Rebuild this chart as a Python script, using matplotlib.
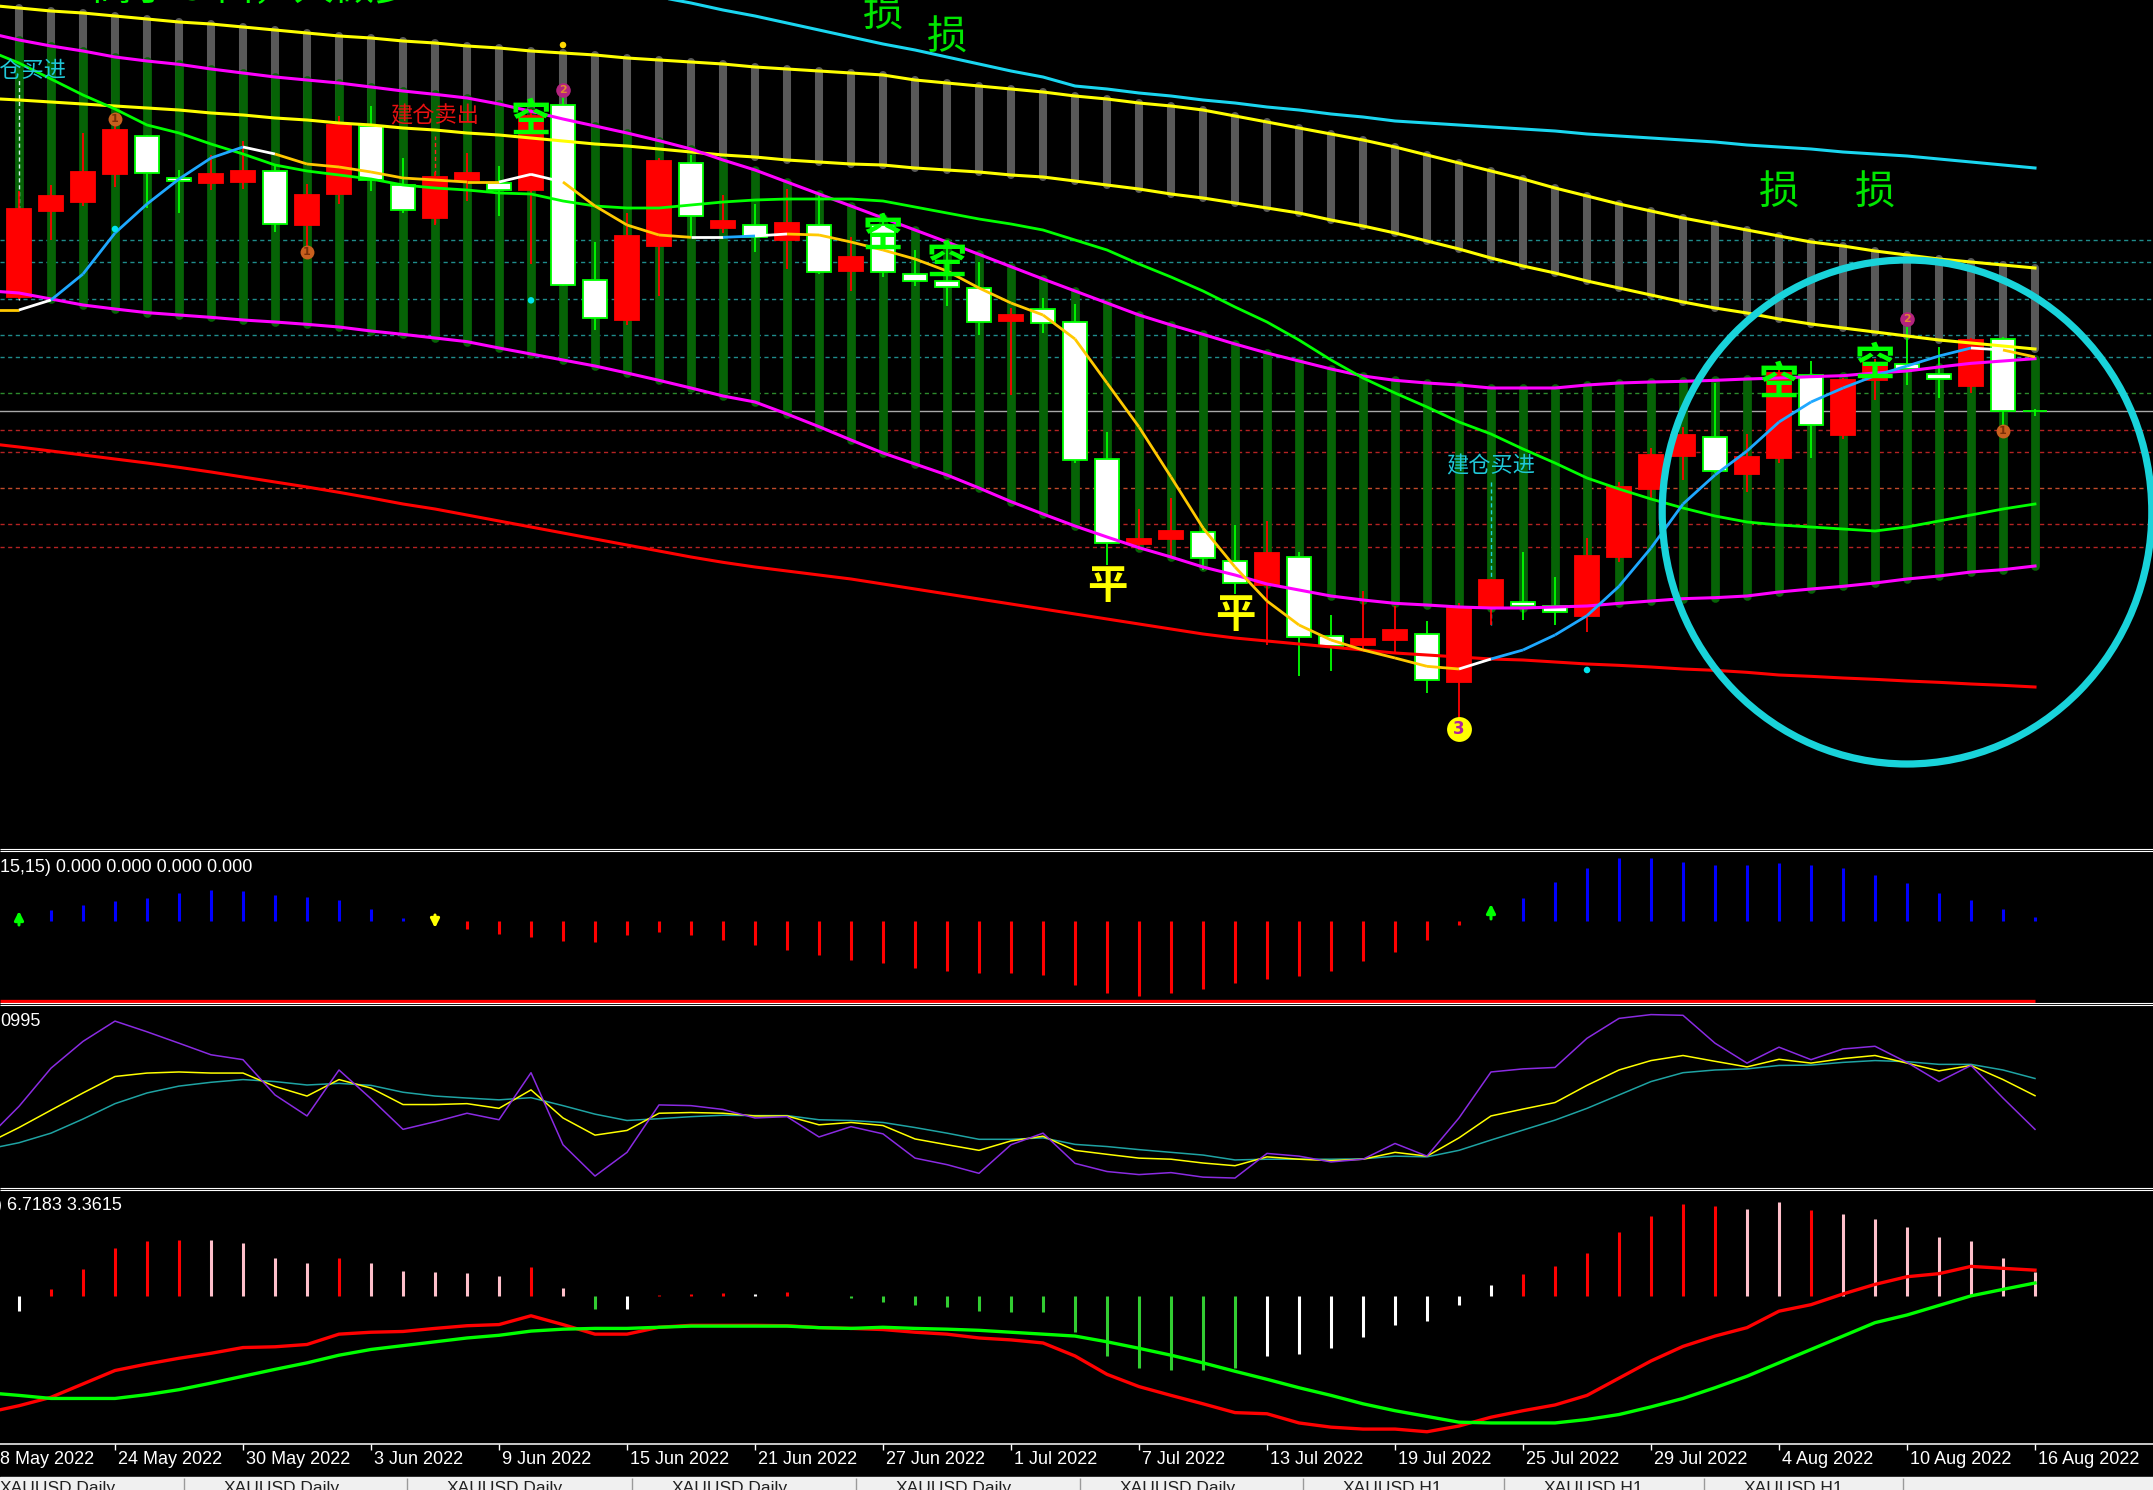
import numpy as np
import matplotlib
matplotlib.use("Agg")
import matplotlib.pyplot as plt
import matplotlib.transforms as mtransforms
from matplotlib.patches import Ellipse, Rectangle
from matplotlib.collections import LineCollection

W, H, DPI = 2153, 1490, 100
CJK = ['Noto Sans CJK SC', 'DejaVu Sans']
NUMF = ['Liberation Sans', 'DejaVu Sans']
plt.rcParams['font.family'] = CJK

# ---------------- data ----------------
# bars: 19 May 2022 .. 16 Aug 2022 (64 daily bars); indicator lines also carry 18 May (index -1)
date_labels = ['18 May 2022', '24 May 2022', '30 May 2022', '3 Jun 2022', '9 Jun 2022',
               '15 Jun 2022', '21 Jun 2022', '27 Jun 2022', '1 Jul 2022', '7 Jul 2022',
               '13 Jul 2022', '19 Jul 2022', '25 Jul 2022', '29 Jul 2022', '4 Aug 2022',
               '10 Aug 2022', '16 Aug 2022']
date_label_idx = [-1, 3, 7, 11, 15, 19, 23, 27, 31, 35, 39, 43, 47, 51, 55, 59, 63]

open_ = [1810.9, 1836.7, 1839.4, 1847.8, 1859.2, 1846.6, 1845.1, 1845.4, 1848.7, 1832.5,
         1841.8, 1862.2, 1844.5, 1834.6, 1846.0, 1845.1, 1843.0, 1868.5, 1816.0, 1804.0,
         1826.2, 1851.1, 1831.6, 1832.5, 1828.0, 1832.5, 1818.7, 1832.5, 1817.8, 1815.7,
         1813.6, 1803.7, 1807.3, 1803.4, 1762.3, 1736.8, 1738.2, 1740.4, 1731.7, 1724.5,
         1732.9, 1709.2, 1706.5, 1708.0, 1709.8, 1695.3, 1717.6, 1719.4, 1718.2, 1715.2,
         1732.9, 1753.3, 1763.2, 1768.9, 1757.8, 1762.6, 1787.5, 1769.5, 1785.9, 1790.7,
         1787.8, 1784.2, 1798.3, 1776.7]
high = [1842.7, 1844.5, 1860.1, 1862.8, 1859.5, 1849.0, 1853.5, 1857.7, 1850.5, 1844.8,
        1865.2, 1868.2, 1852.6, 1848.4, 1854.1, 1850.2, 1867.3, 1870.9, 1827.4, 1836.1,
        1852.6, 1853.5, 1841.5, 1838.8, 1843.3, 1841.8, 1828.8, 1836.1, 1825.0, 1828.0,
        1821.4, 1807.6, 1810.6, 1808.8, 1770.4, 1747.3, 1750.6, 1742.2, 1742.5, 1743.7,
        1734.4, 1715.5, 1722.7, 1718.2, 1713.7, 1719.0, 1726.3, 1734.4, 1726.9, 1738.6,
        1755.4, 1765.6, 1771.9, 1785.1, 1769.8, 1789.6, 1791.7, 1786.6, 1792.3, 1801.9,
        1795.9, 1798.6, 1798.9, 1777.3]
low = [1810.3, 1828.0, 1838.2, 1843.9, 1837.6, 1836.1, 1843.0, 1843.3, 1830.4, 1825.9,
       1838.8, 1842.7, 1836.1, 1832.5, 1839.7, 1835.2, 1820.8, 1814.2, 1801.0, 1802.5,
       1811.2, 1828.6, 1830.1, 1824.4, 1819.3, 1817.8, 1812.7, 1816.9, 1814.2, 1808.2,
       1799.5, 1781.5, 1800.1, 1761.1, 1730.5, 1735.0, 1732.9, 1729.0, 1721.8, 1706.5,
       1697.2, 1698.7, 1705.0, 1704.4, 1692.1, 1683.4, 1712.5, 1714.0, 1712.5, 1710.3,
       1731.4, 1750.3, 1756.0, 1758.1, 1752.4, 1761.1, 1762.6, 1768.3, 1780.0, 1784.5,
       1780.6, 1782.1, 1771.9, 1775.2]
close = [1837.3, 1841.2, 1848.4, 1861.0, 1848.1, 1845.7, 1847.7, 1848.7, 1832.8, 1841.5,
         1862.5, 1846.0, 1837.0, 1846.9, 1848.1, 1843.0, 1865.2, 1814.5, 1804.6, 1829.2,
         1851.7, 1835.2, 1833.7, 1828.8, 1833.0, 1818.4, 1822.9, 1818.4, 1815.7, 1813.9,
         1803.4, 1805.5, 1803.1, 1762.0, 1737.1, 1738.3, 1740.7, 1732.6, 1725.1, 1734.1,
         1708.9, 1706.2, 1708.3, 1711.0, 1696.0, 1717.6, 1726.0, 1718.2, 1716.4, 1733.2,
         1753.9, 1763.5, 1769.5, 1758.7, 1762.9, 1788.1, 1772.5, 1785.9, 1791.0, 1789.3,
         1786.3, 1798.0, 1776.7, 1776.7]

nan = float('nan')
cyan_line = [nan] * 18 + [
    1907.0, 1905.0, 1902.9, 1900.9, 1899.1, 1897.0, 1895.2, 1893.1, 1891.0, 1888.9,
    1886.8, 1885.0, 1882.9, 1880.8, 1878.7, 1876.9, 1874.2, 1873.3, 1872.1, 1871.2,
    1870.0, 1869.1, 1867.9, 1867.0, 1865.8, 1864.9, 1863.7, 1863.1, 1862.5, 1861.9,
    1861.3, 1860.7, 1859.8, 1859.2, 1858.6, 1858.0, 1857.4, 1856.5, 1855.9, 1855.3,
    1854.4, 1853.8, 1853.2, 1852.3, 1851.4, 1850.5, 1849.6]
yellow_hi = [1898.5,
             1897.6, 1896.7, 1896.1, 1895.2, 1894.3, 1893.4, 1892.8, 1891.9, 1891.0, 1890.1,
             1889.2, 1888.6, 1887.7, 1887.1, 1886.2, 1885.6, 1884.7, 1884.1, 1883.5, 1882.6,
             1882.0, 1881.4, 1880.8, 1879.9, 1879.3, 1878.7, 1878.1, 1877.5, 1876.0, 1875.1,
             1874.2, 1873.3, 1872.4, 1871.2, 1870.3, 1869.1, 1868.2, 1867.0, 1865.2, 1863.4,
             1861.6, 1859.8, 1858.0, 1855.9, 1853.5, 1851.1, 1848.7, 1846.3, 1843.6, 1841.2,
             1838.8, 1836.7, 1834.6, 1832.8, 1831.0, 1829.2, 1827.4, 1826.2, 1824.7, 1823.5,
             1822.3, 1821.4, 1820.5, 1819.6]
yellow_lo = [1870.5,
             1870.0, 1869.4, 1868.8, 1868.2, 1867.6, 1867.0, 1866.1, 1865.5, 1864.6, 1864.0,
             1863.1, 1862.5, 1861.6, 1861.0, 1860.1, 1859.5, 1858.6, 1857.7, 1856.8, 1856.2,
             1855.3, 1854.4, 1853.5, 1852.9, 1852.0, 1851.4, 1850.8, 1850.5, 1849.6, 1849.0,
             1848.4, 1847.5, 1846.9, 1845.7, 1844.5, 1843.3, 1841.8, 1840.6, 1839.1, 1837.6,
             1836.1, 1834.0, 1832.2, 1830.1, 1827.7, 1825.3, 1822.6, 1820.2, 1818.1, 1815.7,
             1813.6, 1811.5, 1809.4, 1807.6, 1806.1, 1804.3, 1802.8, 1801.6, 1800.4, 1799.2,
             1798.0, 1797.1, 1796.2, 1795.3]
magenta_hi = [1890.2,
              1888.0, 1886.2, 1884.7, 1882.9, 1881.7, 1880.7, 1879.3, 1878.1, 1876.9, 1876.0,
              1875.1, 1873.9, 1872.7, 1871.7, 1870.6, 1868.8, 1866.6, 1864.3, 1862.2, 1860.1,
              1857.8, 1855.3, 1852.0, 1849.0, 1845.4, 1841.8, 1838.2, 1834.6, 1831.0, 1827.4,
              1823.7, 1820.0, 1816.3, 1812.7, 1809.1, 1805.5, 1802.5, 1799.7, 1796.8, 1794.1,
              1791.7, 1789.3, 1787.2, 1785.9, 1785.1, 1784.5, 1783.6, 1783.6, 1783.6, 1784.5,
              1785.1, 1785.4, 1785.6, 1785.9, 1786.3, 1786.6, 1787.0, 1787.3, 1788.1, 1788.7,
              1789.9, 1791.0, 1791.7, 1792.4]
magenta_lo = [1812.8,
              1812.1, 1810.3, 1808.5, 1807.3, 1806.2, 1805.5, 1804.8, 1804.0, 1803.4, 1802.7,
              1801.9, 1800.7, 1799.7, 1798.6, 1797.5, 1795.6, 1793.8, 1792.0, 1790.2, 1788.1,
              1785.9, 1783.6, 1781.2, 1779.4, 1775.8, 1772.0, 1768.0, 1764.1, 1760.8, 1757.5,
              1753.6, 1749.5, 1745.8, 1742.2, 1738.9, 1735.7, 1732.9, 1729.9, 1727.5, 1724.8,
              1723.0, 1721.2, 1720.0, 1719.0, 1718.5, 1717.9, 1717.6, 1717.6, 1717.9, 1718.2,
              1719.0, 1719.7, 1720.4, 1720.7, 1721.2, 1722.4, 1723.3, 1724.1, 1725.1, 1726.3,
              1727.2, 1728.4, 1729.1, 1730.2]
red_ma = [1767.0,
          1765.9, 1764.7, 1763.5, 1762.3, 1761.1, 1759.8, 1758.4, 1756.9, 1755.4, 1753.9,
          1752.3, 1750.6, 1748.8, 1747.3, 1745.5, 1743.7, 1741.9, 1740.1, 1738.3, 1736.5,
          1734.7, 1732.9, 1731.3, 1729.9, 1728.7, 1727.5, 1726.3, 1724.8, 1723.3, 1721.8,
          1720.3, 1718.8, 1717.3, 1715.8, 1714.3, 1712.8, 1711.3, 1709.8, 1708.6, 1707.7,
          1706.8, 1705.9, 1705.0, 1704.1, 1703.5, 1702.9, 1702.3, 1702.0, 1701.4, 1700.8,
          1700.4, 1699.9, 1699.3, 1698.9, 1698.3, 1697.5, 1697.1, 1696.6, 1696.2, 1695.7,
          1695.3, 1694.8, 1694.4, 1693.9]
green_ma = [1885.0,
            1881.1, 1876.3, 1871.5, 1867.3, 1862.5, 1860.1, 1856.8, 1853.8, 1850.5, 1848.7,
            1847.5, 1846.3, 1844.5, 1843.6, 1843.0, 1842.1, 1841.8, 1839.7, 1838.2, 1837.6,
            1837.6, 1838.5, 1839.4, 1840.0, 1840.3, 1840.3, 1840.3, 1839.7, 1837.9, 1836.1,
            1834.3, 1832.8, 1831.0, 1828.0, 1825.0, 1820.8, 1816.9, 1812.7, 1807.9, 1803.4,
            1798.0, 1792.0, 1786.6, 1782.1, 1777.9, 1773.4, 1769.8, 1765.3, 1761.1, 1756.6,
            1753.3, 1750.3, 1747.6, 1745.2, 1743.4, 1742.5, 1741.9, 1741.3, 1740.7, 1741.9,
            1743.7, 1745.5, 1747.3, 1748.8]
fast_ma = [1807.0,
           1807.0, 1810.0, 1817.8, 1830.1, 1838.8, 1846.3, 1852.6, 1855.9, 1853.8, 1850.8,
           1849.9, 1848.4, 1846.6, 1846.0, 1845.4, 1845.4, 1847.7, 1845.4, 1838.2, 1832.5,
           1829.5, 1828.8, 1828.8, 1829.2, 1829.8, 1829.5, 1827.4, 1825.0, 1822.3, 1818.7,
           1813.6, 1809.1, 1805.5, 1798.3, 1785.1, 1771.9, 1756.9, 1741.6, 1729.9, 1719.7,
           1712.5, 1708.0, 1705.0, 1702.6, 1700.1, 1699.3, 1702.3, 1705.0, 1709.5, 1715.3,
           1724.1, 1735.6, 1748.8, 1757.5, 1764.7, 1773.4, 1779.4, 1783.6, 1787.3, 1790.2,
           1793.2, 1795.6, 1795.0, 1792.9]
# colour of the segment that ends at each point (w=white, b=blue, y=yellow)
fast_ma_state = list('y' + 'ywbbbbbbwyyyyyyywwyyyywbw' + 'y' * 21 + 'w' + 'b' * 15 + 'wy')

level_prices = [1828.0, 1821.4, 1810.3, 1799.5, 1792.9, 1782.1, 1776.7,
                1771.0, 1764.4, 1753.6, 1742.8, 1735.9]
level_colors = ['#1f8c8c', '#1f8c8c', '#1f8c8c', '#1f8c8c', '#1f8c8c', '#2d8a2d', '#a8a8a8',
                '#b42323', '#b42323', '#c04a2a', '#b42323', '#b42323']
level_solid = [False] * 6 + [True] + [False] * 5

vmark_idx = [0, 13, 46]
vmark_top = [1876.0, 1859.2, 1756.0]
vmark_bot = [1810.0, 1833.1, 1712.5]
vmark_col = ['#d8f0f0', '#ff2020', '#20d0e0']

trade_text = ['建仓买进', '建仓卖出', '建仓买进']
trade_idx = [-1.31, 11.6, 44.6]
trade_price = [1878.7, 1865.2, 1760.2]
trade_col = ['#20c8d8', '#e81010', '#20c8d8']

sig_char = ['空', '空', '空', '空', '空', '平', '平', '损', '损', '损', '损']
sig_idx = [16, 27, 29, 55, 58, 34, 38, 27, 29, 55, 58]
sig_price = [1864.0, 1829.5, 1821.4, 1785.1, 1790.7, 1724.1, 1715.3,
             1895.5, 1888.6, 1842.1, 1842.1]
sig_col = ['#00ff00'] * 5 + ['#ffff00'] * 2 + ['#00e600'] * 4

badge_label = ['1', '1', '1', '2', '2', '3']
badge_idx = [3, 9, 62, 17, 59, 45]
badge_price = [1864.3, 1824.4, 1770.7, 1873.0, 1804.3, 1681.2]
dot_idx = [3, 16, 49, 17]
dot_price = [1831.3, 1809.9, 1699.0, 1886.5]
dot_col = ['#00e5ee', '#00e5ee', '#00e5ee', '#ffd700']

osc_hist = [0.0, 1.08, 1.58, 1.98, 2.28, 2.78, 3.08, 2.98, 2.58, 2.38,
            2.08, 1.23, 0.28, 0.0, -0.77, -1.32, -1.62, -2.02, -2.12, -1.42,
            -1.07, -1.38, -1.92, -2.37, -2.92, -3.37, -3.92, -4.22, -4.67, -5.02,
            -5.17, -5.22, -5.42, -6.39, -7.19, -7.50, -7.19, -6.77, -6.20, -5.82,
            -5.47, -5.02, -4.02, -3.12, -1.92, -0.38, 0.0, 2.28, 3.90, 5.28,
            6.24, 6.28, 5.88, 5.55, 5.55, 5.74, 5.55, 5.28, 4.63, 3.78,
            2.78, 2.08, 1.18, 0.38]
up_arrow_idx = [0, 46]
up_arrow_lo = [-0.42, 0.18]
up_arrow_hi = [0.98, 1.68]
down_arrow_idx = [13]
down_arrow_hi = [0.58]
down_arrow_lo = [-0.72]
osc_floor = -7.97

stoch_k = [26.2,
           44.0, 65.1, 79.9, 91.1, 85.2, 78.9, 72.5, 69.8, 50.3, 38.7,
           64.1, 48.2, 31.3, 35.5, 40.2, 36.6, 62.6, 22.8, 5.5, 18.6,
           44.8, 44.4, 42.3, 37.6, 38.3, 27.1, 32.8, 28.8, 15.4, 11.8,
           7.0, 22.8, 29.2, 12.5, 8.0, 6.3, 7.4, 4.9, 4.4, 18.0,
           16.5, 13.3, 14.8, 23.5, 16.5, 37.6, 63.0, 64.7, 65.5, 81.6,
           92.6, 94.7, 94.3, 78.9, 67.9, 76.7, 69.8, 75.7, 77.2, 68.3,
           57.7, 66.6, 48.6, 31.3]
stoch_d = [23.5,
           32.3, 41.9, 51.4, 60.5, 62.4, 63.0, 62.4, 62.4, 55.0, 49.7,
           58.8, 54.1, 45.0, 45.0, 45.5, 42.9, 53.1, 37.6, 28.1, 30.7,
           40.2, 40.6, 40.2, 38.7, 38.7, 33.8, 35.1, 33.4, 26.0, 22.8,
           19.7, 24.9, 27.5, 19.7, 17.5, 15.4, 14.8, 12.7, 11.2, 16.1,
           14.8, 14.0, 14.8, 18.6, 16.5, 26.6, 38.7, 42.5, 46.1, 55.6,
           64.1, 69.3, 72.1, 68.9, 65.8, 70.0, 67.9, 70.4, 72.1, 67.9,
           63.6, 66.6, 58.8, 49.9]
stoch_s = [20.3,
           23.9, 29.2, 37.0, 45.5, 51.4, 55.2, 57.3, 58.8, 57.7, 55.8,
           56.7, 55.6, 51.8, 49.7, 48.6, 47.6, 48.8, 44.4, 39.7, 36.2,
           37.2, 38.3, 39.1, 38.9, 38.9, 36.6, 36.2, 35.1, 32.3, 29.2,
           25.8, 25.8, 26.6, 23.0, 21.8, 20.1, 18.6, 17.1, 14.4, 14.8,
           14.8, 14.8, 15.0, 16.5, 16.1, 19.7, 25.4, 30.9, 36.4, 42.9,
           50.3, 57.7, 62.6, 64.1, 64.7, 66.6, 66.8, 68.3, 69.3, 68.7,
           67.2, 67.2, 64.1, 59.4]

macd_hist = [-4.0, 1.8, 7.0, 12.5, 14.3, 14.5, 14.5, 13.8, 10.0, 8.7,
             10.0, 8.5, 6.5, 6.2, 6.0, 5.2, 7.5, 2.0, -3.5, -3.5,
             0.3, 0.5, 0.8, 0.5, 1.0, -0.1, -0.5, -1.5, -2.5, -2.8,
             -4.0, -4.3, -4.3, -9.5, -15.7, -18.8, -19.3, -19.3, -18.8, -15.7,
             -15.2, -13.5, -10.7, -7.5, -6.5, -2.3, 2.8, 5.7, 7.8, 11.3,
             16.7, 20.8, 24.0, 23.5, 22.7, 24.5, 22.5, 21.3, 20.0, 18.0,
             15.3, 14.3, 9.8, 6.2]
macd_hist_state = list('wrrrrrppppr' 'pppppr' 'pgwrrrwrwg' 'gggggggggggg' 'wwwwwwww'
                       'rrrrrrr' 'pprppppppp')
macd_fast = [-30.5,
             -28.7, -26.5, -23.0, -19.5, -17.8, -16.3, -15.0, -13.5, -13.3, -12.7,
             -10.0, -9.5, -9.3, -8.5, -7.8, -7.5, -5.2, -7.5, -10.0, -10.0,
             -8.2, -7.7, -7.7, -7.7, -7.8, -8.3, -8.5, -8.8, -9.5, -10.0,
             -11.0, -11.5, -12.3, -15.7, -20.5, -23.7, -26.0, -28.2, -30.5, -30.8,
             -33.2, -34.3, -34.8, -34.8, -35.5, -34.0, -31.7, -30.0, -28.5, -26.0,
             -21.5, -17.0, -13.2, -10.5, -8.3, -4.0, -2.3, 0.5, 3.0, 5.0,
             5.8, 7.7, 7.2, 6.7183]
macd_slow = [-25.3,
             -26.0, -26.8, -26.8, -26.8, -25.8, -24.5, -22.8, -21.0, -19.2, -17.5,
             -15.5, -14.0, -13.0, -12.0, -11.0, -10.3, -9.2, -8.7, -8.5, -8.5,
             -8.2, -7.9, -7.9, -7.9, -7.9, -8.3, -8.5, -8.2, -8.5, -8.7,
             -9.0, -9.5, -10.0, -10.5, -12.0, -13.7, -15.5, -17.5, -19.7, -21.8,
             -24.0, -26.0, -28.2, -30.0, -31.5, -33.0, -33.2, -33.2, -33.2, -32.3,
             -31.0, -29.0, -26.8, -24.0, -21.0, -17.5, -14.0, -10.5, -7.0, -5.0,
             -2.5, 0.0, 1.7, 3.3615]

tab_labels = ['XAUUSD,Daily'] * 6 + ['XAUUSD,H1'] * 3

# ---------------- figure ----------------
N = len(open_)
x = np.arange(N)              # bar positions (19 May = 0)
xl = np.arange(-1, N)         # indicator-line positions (from 18 May)
o = np.array(open_); c = np.array(close); hi = np.array(high); lo = np.array(low)
XL, XR = -19 / 32, (W - 19) / 32

fig = plt.figure(figsize=(W / DPI, H / DPI), dpi=DPI, facecolor='black')


def band(top, bottom):
    ax = fig.add_axes([0, 1 - bottom / H, 1, (bottom - top) / H])
    ax.set_facecolor('black')
    ax.set_xlim(XL, XR)
    for s in ax.spines.values():
        s.set_visible(False)
    ax.set_xticks([])
    ax.set_yticks([])
    return ax


# main price panel
ax1 = band(0, 847)
ax1.set_ylim(1900 - 847 * 0.3, 1900)
for lv, col, solid in zip(level_prices, level_colors, level_solid):
    ax1.axhline(lv, color=col, lw=1.0, ls='-' if solid else (0, (3, 2.5)), zorder=0.5)
gb = ax1.vlines(x, yellow_lo[1:], yellow_hi[1:], color='#595959', lw=5.8, zorder=1)
gb.set_capstyle('round')
grb = ax1.vlines(x, magenta_lo[1:], magenta_hi[1:], color='#066306', lw=6.3, zorder=2)
grb.set_capstyle('round')
for xi, t, b, col in zip(vmark_idx, vmark_top, vmark_bot, vmark_col):
    ax1.vlines(xi, b, t, color=col, lw=1.0, ls=(0, (3, 2)), zorder=2.5)

bull = c > o
ax1.vlines(x, lo, hi, colors=np.where(bull, '#ff0000', '#00ff00'), lw=1.3, zorder=3)
ax1.bar(x, np.abs(c - o), bottom=np.minimum(o, c), width=0.75,
        color=np.where(bull, '#ff0000', '#ffffff'),
        edgecolor=np.where(bull, '#ff0000', '#00ff00'), linewidth=1.3, zorder=4)

ax1.plot(xl, cyan_line, color='#1ad6f0', lw=2.2, zorder=5)
ax1.plot(xl, yellow_hi, color='#ffff00', lw=2.2, zorder=5)
ax1.plot(xl, yellow_lo, color='#ffff00', lw=2.2, zorder=5)
ax1.plot(xl, magenta_hi, color='#ff00ff', lw=2.2, zorder=5)
ax1.plot(xl, magenta_lo, color='#ff00ff', lw=2.2, zorder=5)
ax1.plot(xl, red_ma, color='#ff0000', lw=2.2, zorder=5)
ax1.plot(xl, green_ma, color='#00ff00', lw=2.0, zorder=5)
ma_cols = {'w': '#ffffff', 'b': '#1ea8ff', 'y': '#ffc800'}
segs = [[(xl[i - 1], fast_ma[i - 1]), (xl[i], fast_ma[i])] for i in range(1, len(xl))]
ax1.add_collection(LineCollection(segs, colors=[ma_cols[s] for s in fast_ma_state[1:]],
                                  linewidths=2.0, zorder=6))

for t, xi, yp, col in zip(trade_text, trade_idx, trade_price, trade_col):
    ax1.text(xi, yp, t, color=col, fontsize=16, ha='left', va='center', zorder=7)
for ch, xi, yp, col in zip(sig_char, sig_idx, sig_price, sig_col):
    ax1.text(xi, yp, ch, color=col, fontsize=29, ha='center', va='center',
             fontweight='bold' if ch != '损' else 'normal', zorder=8)
badge_style = {'1': ('#c8601e', '#7a3008', 100, 8),
               '2': ('#b4237f', '#e08a30', 110, 8),
               '3': ('#ffff00', '#b0209f', 320, 12)}
for lab, xi, yp in zip(badge_label, badge_idx, badge_price):
    fc, tc, s, fs = badge_style[lab]
    ax1.scatter([xi], [yp], s=s, color=fc, zorder=8, linewidths=0)
    ax1.text(xi, yp, lab, color=tc, fontsize=fs, ha='center', va='center',
             family=['DejaVu Sans'], fontweight='bold', zorder=9)
ax1.scatter(dot_idx, dot_price, s=22, color=dot_col, zorder=8, linewidths=0)
ax1.add_patch(Ellipse((59, 1746.4), 15.3, 151.2, fill=False, edgecolor='#19d3da',
                      lw=5.2, zorder=10))

# oscillator histogram panel
ax2 = band(852, 1001)
ax2.set_ylim(-8.02, 6.88)
ax2.vlines(x, 0, osc_hist, colors=['#0000ff' if v > 0 else '#ff0000' for v in osc_hist], lw=2.2)
for xi, a, b in zip(up_arrow_idx, up_arrow_lo, up_arrow_hi):
    ax2.annotate('', xy=(xi, b), xytext=(xi, a),
                 arrowprops=dict(arrowstyle='-|>', color='#00ff00', lw=2.2,
                                 mutation_scale=13, shrinkA=0, shrinkB=0))
for xi, a, b in zip(down_arrow_idx, down_arrow_hi, down_arrow_lo):
    ax2.annotate('', xy=(xi, b), xytext=(xi, a),
                 arrowprops=dict(arrowstyle='-|>', color='#ffff00', lw=2.2,
                                 mutation_scale=13, shrinkA=0, shrinkB=0))
ax2.hlines(osc_floor, XL, x[-1], color='#ff0000', lw=2.4, clip_on=False)

# stochastic panel
ax3 = band(1005, 1186)
ax3.set_ylim(0, 100)
ax3.plot(xl, stoch_s, color='#1fa3a3', lw=1.1)
ax3.plot(xl, stoch_d, color='#ffff00', lw=1.1)
ax3.plot(xl, stoch_k, color='#8a2be2', lw=1.1)

# macd panel
ax4 = band(1190, 1444)
ax4.set_ylim(-38.7, 27.66)
hcols = {'r': '#ff0000', 'p': '#ffc0cb', 'w': '#ffffff', 'g': '#32cd32'}
ax4.vlines(x, 0, macd_hist, colors=[hcols[s] for s in macd_hist_state], lw=2.2)
ax4.plot(xl, macd_fast, color='#ff0000', lw=2.4)
ax4.plot(xl, macd_slow, color='#00ff00', lw=2.4)
ax4.spines['bottom'].set_visible(True)
ax4.spines['bottom'].set_color('white')
ax4.spines['bottom'].set_linewidth(1.1)
ax4.set_xticks([i for i in date_label_idx if i >= 0])
ax4.tick_params(axis='x', colors='white', direction='out', length=4, width=1,
                labelbottom=False)
tr = mtransforms.blended_transform_factory(ax4.transData, ax4.transAxes)
for xi, lab in zip(date_label_idx, date_labels):
    ax4.text(xi + 0.1, -0.06, lab, transform=tr, color='white', fontsize=13,
             ha='left', va='center', family=NUMF, clip_on=False)

# overlay in pixel space: separators, headers, tabs
ov = fig.add_axes([0, 0, 1, 1], zorder=20)
ov.set_xlim(0, W)
ov.set_ylim(H, 0)
ov.axis('off')
ov.patch.set_alpha(0)
ov.hlines([848.5, 851, 1002.5, 1004.5, 1187.5, 1189.5], 0, W, color='white', lw=0.8)
ov.text(0, 867, '15,15) 0.000 0.000 0.000 0.000', color='white', fontsize=13,
        ha='left', va='center', family=NUMF)
ov.text(0, 1021, '0995', color='white', fontsize=13, ha='left', va='center', family=NUMF)
ov.text(-4, 1205, ') %.4f %.4f' % (macd_fast[-1], macd_slow[-1]), color='white',
        fontsize=13, ha='left', va='center', family=NUMF)
ov.text(58, -12, 'XAUUSD', color='#00ff00', fontsize=29, fontweight='bold',
        ha='right', va='center')
ov.text(92, -12, '高手 3 档，人做多', color='#00ff00', fontsize=29,
        ha='left', va='center')
ov.add_patch(Rectangle((0, 1477), W, 13, color='#f0f0f0', zorder=1))
tab_edges = [-40, 184, 407, 632, 856, 1080, 1303, 1504, 1704, 1903]
ov.vlines(tab_edges[1:], 1478, H, color='#9a9a9a', lw=1)
for left, lab in zip(tab_edges[:-1], tab_labels):
    ov.text(left + 40, 1481, lab, color='#202020', fontsize=12.5, ha='left', va='top',
            family=NUMF)

fig.savefig('out.png', dpi=DPI, facecolor='black')
